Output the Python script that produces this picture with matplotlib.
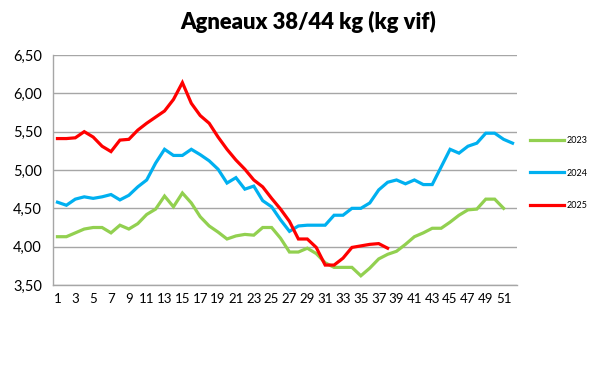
import matplotlib
matplotlib.use("Agg")
import matplotlib.pyplot as plt
import numpy as np

weeks = list(range(1, 53))
tick_labels = [str(w) for w in range(1, 53, 2)]
y_ticks = [3.5, 4.0, 4.5, 5.0, 5.5, 6.0, 6.5]

s2023 = [4.13, 4.13, 4.18, 4.23, 4.25, 4.25, 4.18, 4.28, 4.23, 4.30,
         4.42, 4.49, 4.66, 4.52, 4.70, 4.57, 4.39, 4.27, 4.19, 4.10,
         4.14, 4.16, 4.15, 4.25, 4.25, 4.11, 3.93, 3.93, 3.98, 3.91,
         3.79, 3.73, 3.73, 3.73, 3.62, 3.72, 3.84, 3.90, 3.94, 4.03,
         4.13, 4.18, 4.24, 4.24, 4.32, 4.41, 4.48, 4.49, 4.62, 4.62,
         4.50]
s2024 = [4.58, 4.54, 4.62, 4.65, 4.63, 4.65, 4.68, 4.61, 4.67, 4.78,
         4.87, 5.09, 5.27, 5.19, 5.19, 5.27, 5.20, 5.12, 5.01, 4.83,
         4.90, 4.75, 4.79, 4.60, 4.52, 4.35, 4.20, 4.27, 4.28, 4.28,
         4.28, 4.41, 4.41, 4.50, 4.50, 4.57, 4.74, 4.84, 4.87, 4.82,
         4.87, 4.81, 4.81, 5.04, 5.27, 5.22, 5.31, 5.35, 5.48, 5.48,
         5.40, 5.35]
s2025 = [5.41, 5.41, 5.42, 5.50, 5.43, 5.31, 5.24, 5.39, 5.40, 5.52,
         5.61, 5.69, 5.77, 5.92, 6.14, 5.87, 5.71, 5.61, 5.43, 5.27,
         5.13, 5.01, 4.87, 4.78, 4.63, 4.49, 4.33, 4.10, 4.10, 3.99,
         3.76, 3.76, 3.85, 3.99, 4.01, 4.03, 4.04, 3.98]

series = [("2023", s2023, "#92D050"), ("2024", s2024, "#00B0F0"), ("2025", s2025, "#FF0000")]

plt.rcParams['font.family'] = ['Lato', 'DejaVu Sans']

fig = plt.figure(figsize=(6, 3.77), dpi=100)
ax = fig.add_axes([53/600, 92/377, 464/600, 230/377])

for name, vals, col in series:
    ax.plot(weeks[:len(vals)], vals, color=col, lw=2.3, label=name, solid_joinstyle='miter')

ax.set_xlim(0.5, 52.5)
ax.set_ylim(3.5, 6.5)
ax.set_yticks(y_ticks)
ax.set_yticklabels([f"{v:.2f}".replace('.', ',') for v in y_ticks], fontsize=10.5)
ax.set_xticks(list(range(1, 53, 2)))
ax.set_xticklabels(tick_labels, fontsize=9.5)
ax.tick_params(axis='both', length=0, pad=6, colors='#000000')
ax.tick_params(axis='y', pad=8)
ax.grid(axis='y', color='#A6A6A6', lw=1)
ax.set_axisbelow(True)
for sp in ['top', 'right']:
    ax.spines[sp].set_visible(False)
for sp in ['left', 'bottom']:
    ax.spines[sp].set_color('#A6A6A6')
    ax.spines[sp].set_linewidth(1)

fig.text(308/600, 1 - 22/377, "Agneaux 38/44 kg (kg vif)", ha='center', va='center',
         fontsize=15.8, fontweight='heavy')

leg = ax.legend(loc='upper left', bbox_to_anchor=(522/600, 1 - 128/377), bbox_transform=fig.transFigure,
                frameon=False, fontsize=6.5, handlelength=3.8, handletextpad=0.25, labelspacing=2.6)

fig.savefig("out.png", dpi=100)
